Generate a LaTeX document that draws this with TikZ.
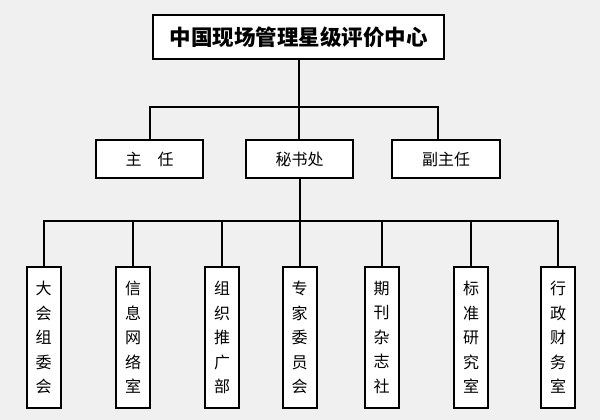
\documentclass[tikz,border=0pt]{standalone}
\usepackage{fontspec}
\setmainfont{Noto Sans CJK SC}
\definecolor{bg}{HTML}{F0F0F0}
\begin{document}
\begin{tikzpicture}[x=1pt,y=-1pt,
  line width=2pt,
  box/.style={draw=black,fill=white,inner sep=0pt,line width=2pt},
  topbox/.style={box,minimum width=291pt,minimum height=44pt,font=\fontsize{21.5}{24}\selectfont\bfseries},
  midbox/.style={box,minimum width=107pt,minimum height=38pt,font=\fontsize{16}{19}\selectfont},
  vbox/.style={box,minimum width=34pt,minimum height=141pt,align=center,font=\fontsize{16}{24.5}\selectfont},
  conn/.style={draw=black,line width=2pt}]
\fill[bg] (0,0) rectangle (600,420);
\useasboundingbox (0,0) rectangle (600,420);
\node[topbox] (top) at (298.5,37) {中国现场管理星级评价中心};
\node[midbox] (zhu) at (149.5,159) {主\hspace{1em}任};
\node[midbox] (sec) at (299.5,159) {秘书处};
\node[midbox,minimum width=108pt] (fu) at (446,159) {副主任};
\coordinate (j1) at (299,107);
\coordinate (j2) at (299,221);
\coordinate (fuin) at ([xshift=-8pt]fu.north);
\node[vbox] (b1) at (43.5,337.5) {大\\会\\组\\委\\会};
\node[vbox] (b2) at (133,337.5) {信\\息\\网\\络\\室};
\node[vbox] (b3) at (222,337.5) {组\\织\\推\\广\\部};
\node[vbox] (b4) at (299.5,337.5) {专\\家\\委\\员\\会};
\node[vbox] (b5) at (381.5,337.5) {期\\刊\\杂\\志\\社};
\node[vbox] (b6) at (471,337.5) {标\\准\\研\\究\\室};
\node[vbox] (b7) at (558,337.5) {行\\政\\财\\务\\室};
\draw[conn] (top.south) -- (top.south |- sec.north);
\draw[conn] (zhu.north) |- (j1) -| (fuin);
\draw[conn] (sec.south) -- (sec.south |- b4.north);
\draw[conn] (b1.north) |- (j2) -| (b7.north);
\foreach \b in {b2,b3,b5,b6} \draw[conn] (\b.north) -- (\b.north |- j2);
\end{tikzpicture}
\end{document}
